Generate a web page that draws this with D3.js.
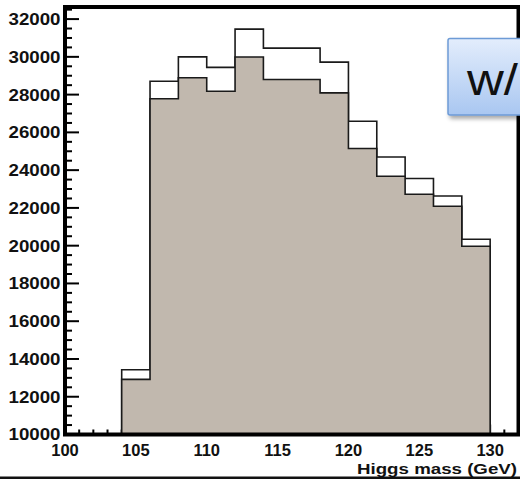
<!DOCTYPE html>
<html>
<head>
<meta charset="utf-8">
<script src="https://cdn.jsdelivr.net/npm/d3@7"></script>
<style>
  html, body { margin: 0; padding: 0; background: #fff; }
  svg { display: block; }
</style>
</head>
<body>
<svg id="chart" width="520" height="479"></svg>
<script>
// ---- data ----
const binEdges = [104, 106, 108, 110, 112, 114, 116, 118, 120, 122, 124, 126, 128, 130];
const totalValues = [13430, 28710, 30000, 29440, 31470, 30460, 30460, 29720, 26590, 24700, 23560, 22630, 20340];
const filledValues = [12920, 27780, 28890, 28180, 29990, 28800, 28800, 28090, 25150, 23680, 22720, 22090, 19970];
const xTickLabels = [100, 105, 110, 115, 120, 125, 130];
const yTickLabels = [10000, 12000, 14000, 16000, 18000, 20000, 22000, 24000, 26000, 28000, 30000, 32000];
const xTitle = "Higgs mass (GeV)";
const boxText = "w/";

// ---- layout ----
const svg = d3.select("#chart");
const mL = 65, mR = 518.5, mT = 7, mB = 434.5;
const x = d3.scaleLinear().domain([100, 132]).range([mL, mR]);
const y = d3.scaleLinear().domain([10000, 32640]).range([mB, mT]);

// ticks (drawn first, bars cover them)
const g = svg.append("g");
const yMinor = d3.range(10000, 32640, 500);
g.selectAll("line.ym").data(yMinor).join("line")
  .attr("x1", mL).attr("x2", d => mL + (d % 2000 === 0 ? 14 : 7))
  .attr("y1", d => y(d)).attr("y2", d => y(d))
  .attr("stroke", "#000").attr("stroke-width", 2);
const xMinor = d3.range(100, 132.01, 1);
g.selectAll("line.xm").data(xMinor).join("line")
  .attr("x1", d => x(d)).attr("x2", d => x(d))
  .attr("y1", mB).attr("y2", d => mB - (d % 5 === 0 ? 10 : 5))
  .attr("stroke", "#000").attr("stroke-width", 2);

// step path builder
function stepPath(vals) {
  const p = d3.path();
  p.moveTo(x(binEdges[0]), y(10000));
  vals.forEach((v, i) => {
    p.lineTo(x(binEdges[i]), y(v));
    p.lineTo(x(binEdges[i + 1]), y(v));
  });
  p.lineTo(x(binEdges[binEdges.length - 1]), y(10000));
  p.closePath();
  return p.toString();
}

svg.append("path").attr("d", stepPath(totalValues))
  .attr("fill", "#fff").attr("stroke", "#1a1a1a").attr("stroke-width", 1.6);
svg.append("path").attr("d", stepPath(filledValues))
  .attr("fill", "#c1b8ae").attr("stroke", "#1a1a1a").attr("stroke-width", 1.6);

// frame
svg.append("rect").attr("x", mL).attr("y", mT)
  .attr("width", mR - mL).attr("height", mB - mT)
  .attr("fill", "none").attr("stroke", "#000").attr("stroke-width", 4);

// y labels
svg.selectAll("text.yl").data(yTickLabels).join("text")
  .attr("x", 60.5).attr("y", d => y(d)).attr("dy", "0.36em")
  .attr("text-anchor", "end")
  .attr("font-family", "Liberation Sans, Arial, sans-serif")
  .attr("font-weight", "bold").attr("font-size", 16.5)
  .attr("textLength", 52).attr("lengthAdjust", "spacingAndGlyphs")
  .attr("fill", "#111")
  .text(d => d);

// x labels
svg.selectAll("text.xl").data(xTickLabels).join("text")
  .attr("x", d => x(d)).attr("y", 455.5)
  .attr("text-anchor", "middle")
  .attr("font-family", "Liberation Sans, Arial, sans-serif")
  .attr("font-weight", "bold").attr("font-size", 16.5)
  .attr("fill", "#111")
  .text(d => d);

// x title
svg.append("text").attr("x", 517).attr("y", 474)
  .attr("text-anchor", "end")
  .attr("font-family", "Liberation Sans, Arial, sans-serif")
  .attr("font-weight", "bold").attr("font-size", 15)
  .attr("textLength", 160).attr("lengthAdjust", "spacingAndGlyphs")
  .attr("fill", "#111")
  .text(xTitle);

// bottom rule
svg.append("rect").attr("x", 0).attr("y", 476.5).attr("width", 520).attr("height", 2.5).attr("fill", "#111");

// "w/" box
const defs = svg.append("defs");
const grad = defs.append("linearGradient").attr("id", "bg").attr("x1", 0).attr("y1", 0).attr("x2", 0).attr("y2", 1);
grad.append("stop").attr("offset", "0%").attr("stop-color", "#e3edfc");
grad.append("stop").attr("offset", "100%").attr("stop-color", "#a9c7f1");
const flt = defs.append("filter").attr("id", "sh").attr("x", "-10%").attr("y", "-10%").attr("width", "130%").attr("height", "130%");
flt.append("feDropShadow").attr("dx", 2).attr("dy", 3).attr("stdDeviation", 2).attr("flood-color", "#000").attr("flood-opacity", 0.35);
svg.append("rect").attr("x", 448).attr("y", 38.5).attr("width", 90).attr("height", 76.5)
  .attr("rx", 2).attr("fill", "url(#bg)").attr("stroke", "#6d9bd6").attr("stroke-width", 1.5)
  .attr("filter", "url(#sh)");
svg.append("text").attr("x", 467).attr("y", 95)
  .attr("font-family", "Liberation Sans, Arial, sans-serif")
  .attr("font-size", 44).attr("fill", "#111")
  .attr("textLength", 51).attr("lengthAdjust", "spacingAndGlyphs")
  .text(boxText);
</script>
</body>
</html>
